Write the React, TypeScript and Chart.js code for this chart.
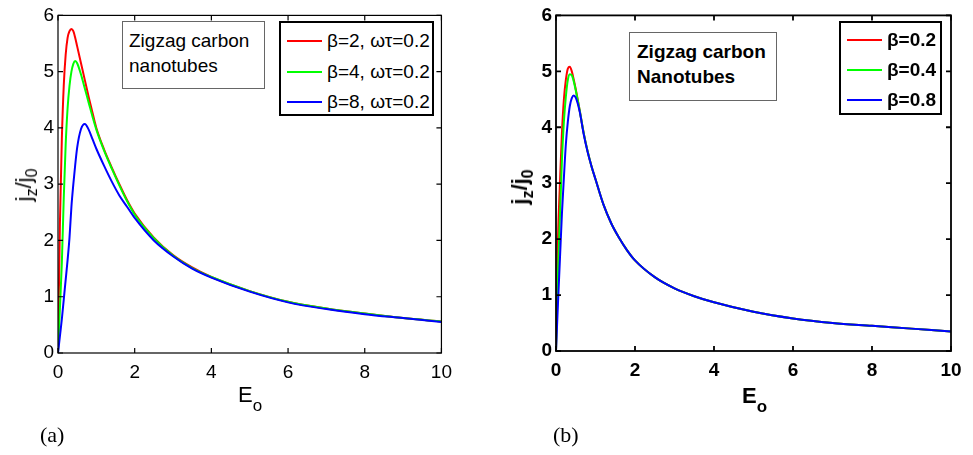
import React, { useEffect, useRef } from "react";
import { Chart, registerables } from "chart.js";
Chart.register(...registerables);

// ---------- data ----------
const E_LEFT = [0, 0.05, 0.1, 0.15, 0.2, 0.25, 0.3, 0.35, 0.4, 0.45, 0.5, 0.6, 0.7, 0.8, 0.9, 1.0, 1.2, 1.4, 1.6, 1.8, 2.0, 2.5, 3, 3.5, 4, 5, 6, 7, 8, 9, 10];
const LEFT_BETA2 = [0, 2.3, 3.8, 4.75, 5.3, 5.6, 5.72, 5.76, 5.72, 5.6, 5.45, 5.15, 4.85, 4.55, 4.27, 4.0, 3.62, 3.3, 3.0, 2.72, 2.48, 2.05, 1.74, 1.52, 1.35, 1.1, 0.91, 0.79, 0.7, 0.62, 0.56];
const LEFT_BETA4 = [0, 0.8, 1.6, 2.75, 3.7, 4.35, 4.75, 5.0, 5.14, 5.19, 5.15, 4.95, 4.7, 4.45, 4.2, 3.97, 3.6, 3.28, 2.98, 2.7, 2.46, 2.04, 1.73, 1.51, 1.35, 1.1, 0.91, 0.79, 0.7, 0.62, 0.56];
const LEFT_BETA8 = [0, 0.3, 0.6, 0.95, 1.3, 1.65, 2.05, 2.6, 3.0, 3.35, 3.65, 3.98, 4.07, 3.97, 3.8, 3.63, 3.33, 3.05, 2.8, 2.6, 2.4, 2.0, 1.72, 1.5, 1.34, 1.09, 0.9, 0.78, 0.69, 0.62, 0.55];

const E_RIGHT = [0, 0.05, 0.1, 0.15, 0.2, 0.25, 0.3, 0.35, 0.4, 0.45, 0.5, 0.6, 0.7, 0.8, 0.9, 1.0, 1.2, 1.4, 1.6, 1.8, 2.0, 2.5, 3, 3.5, 4, 5, 6, 7, 8, 9, 10];
const RIGHT_BETA02 = [0, 2.0, 3.0, 3.9, 4.5, 4.85, 5.05, 5.08, 5.0, 4.85, 4.68, 4.3, 3.9, 3.57, 3.3, 3.07, 2.62, 2.28, 2.02, 1.8, 1.62, 1.32, 1.12, 0.98, 0.87, 0.7, 0.58, 0.5, 0.45, 0.4, 0.35];
const RIGHT_BETA04 = [0, 1.4, 2.4, 3.4, 4.1, 4.55, 4.85, 4.95, 4.93, 4.82, 4.66, 4.3, 3.9, 3.57, 3.3, 3.07, 2.62, 2.28, 2.02, 1.8, 1.62, 1.32, 1.12, 0.98, 0.87, 0.7, 0.58, 0.5, 0.45, 0.4, 0.35];
const RIGHT_BETA08 = [0, 0.85, 1.65, 2.45, 3.1, 3.7, 4.1, 4.38, 4.52, 4.57, 4.53, 4.28, 3.88, 3.56, 3.3, 3.07, 2.62, 2.28, 2.02, 1.8, 1.62, 1.32, 1.12, 0.98, 0.87, 0.7, 0.58, 0.5, 0.45, 0.4, 0.35];

const LEFT_LABELS = ["β=2, ωτ=0.2", "β=4, ωτ=0.2", "β=8, ωτ=0.2"];
const RIGHT_LABELS = ["β=0.2", "β=0.4", "β=0.8"];
const SERIES_COLORS = ["#ff0000", "#00ff00", "#0000ff"];
const X_TICKS = [0, 2, 4, 6, 8, 10];
const Y_TICKS = [0, 1, 2, 3, 4, 5, 6];
const LEFT_NOTE = ["Zigzag carbon", "nanotubes"];
const RIGHT_NOTE = ["Zigzag carbon", "Nanotubes"];

const SANS = "'Liberation Sans', Arial, sans-serif";
const SERIF = "'Liberation Serif', 'Times New Roman', serif";

type PanelProps = {
  left: number;
  width: number;
  height: number;
  padTop: number;
  padRight: number;
  yAxisWidth: number;
  xAxisHeight: number;
  bold: boolean;
  frameWidth: number;
  xs: number[];
  series: number[][];
  labels: string[];
};

const framePlugin = {
  id: "frameTicks",
  afterDatasetsDraw(chart: any, _args: any, opts: any) {
    const { ctx, chartArea: a, scales } = chart;
    const L = 5;
    ctx.save();
    ctx.strokeStyle = "#000";
    ctx.lineWidth = opts.lineWidth || 1;
    ctx.beginPath();
    scales.x.ticks.forEach((_t: any, i: number) => {
      const px = scales.x.getPixelForTick(i);
      ctx.moveTo(px, a.bottom);
      ctx.lineTo(px, a.bottom - L);
      ctx.moveTo(px, a.top);
      ctx.lineTo(px, a.top + L);
    });
    scales.y.ticks.forEach((_t: any, i: number) => {
      const py = scales.y.getPixelForTick(i);
      ctx.moveTo(a.left, py);
      ctx.lineTo(a.left + L, py);
      ctx.moveTo(a.right, py);
      ctx.lineTo(a.right - L, py);
    });
    ctx.stroke();
    ctx.strokeRect(a.left, a.top, a.right - a.left, a.bottom - a.top);
    ctx.restore();
  },
};

function Panel(p: PanelProps) {
  const ref = useRef<HTMLCanvasElement | null>(null);
  useEffect(() => {
    if (!ref.current) return;
    const font = { family: SANS, size: 19, weight: p.bold ? "bold" : "normal" } as any;
    const chart = new Chart(ref.current, {
      type: "line",
      data: {
        datasets: p.series.map((ys, k) => ({
          label: p.labels[k],
          data: p.xs.map((x, i) => ({ x, y: ys[i] })),
          borderColor: SERIES_COLORS[k],
          backgroundColor: SERIES_COLORS[k],
          borderWidth: 2,
          pointRadius: 0,
          fill: false,
          cubicInterpolationMode: "monotone",
          order: p.series.length - k,
        })),
      },
      options: {
        animation: false,
        responsive: false,
        events: [],
        layout: { padding: { top: p.padTop, right: p.padRight, left: 0, bottom: 0 } },
        plugins: {
          legend: { display: false },
          tooltip: { enabled: false },
          frameTicks: { lineWidth: p.frameWidth },
        } as any,
        scales: {
          x: {
            type: "linear",
            min: 0,
            max: 10,
            grid: { display: false, drawTicks: false },
            border: { display: false },
            ticks: { color: "#000", font, padding: 8, maxRotation: 0, autoSkip: false },
            afterBuildTicks: (s: any) => {
              s.ticks = X_TICKS.map((v) => ({ value: v }));
            },
            afterFit: (s: any) => {
              s.height = p.xAxisHeight;
            },
          },
          y: {
            type: "linear",
            min: 0,
            max: 6,
            grid: { display: false, drawTicks: false },
            border: { display: false },
            ticks: { color: "#000", font, padding: 4, autoSkip: false },
            afterBuildTicks: (s: any) => {
              s.ticks = Y_TICKS.map((v) => ({ value: v }));
            },
            afterFit: (s: any) => {
              s.width = p.yAxisWidth;
            },
          },
        },
      },
      plugins: [framePlugin],
    });
    return () => chart.destroy();
  }, []);
  return (
    <canvas
      ref={ref}
      width={p.width}
      height={p.height}
      style={{ position: "absolute", left: p.left, top: 0, width: p.width, height: p.height }}
    />
  );
}

function Legend(props: {
  left: number; top: number; width: number; height: number; labels: string[];
  bold: boolean; rowTop: number; rowGap: number; lineLeft: number; lineLen: number; textLeft: number;
}) {
  return (
    <div
      style={{
        position: "absolute", left: props.left, top: props.top, width: props.width, height: props.height,
        boxSizing: "border-box", border: "2px solid #000", background: "#fff",
        fontFamily: SANS, fontSize: 19, fontWeight: props.bold ? "bold" : "normal", color: "#000",
      }}
    >
      {props.labels.map((lab, k) => (
        <div key={k} style={{ position: "absolute", left: 0, top: props.rowTop + k * props.rowGap - 12, height: 24, width: "100%" }}>
          <div style={{ position: "absolute", left: props.lineLeft, top: 11, width: props.lineLen, height: 2, background: SERIES_COLORS[k] }} />
          <div style={{ position: "absolute", left: props.textLeft, top: 0, lineHeight: "24px", whiteSpace: "nowrap" }}>{lab}</div>
        </div>
      ))}
    </div>
  );
}

function Note(props: { left: number; top: number; width: number; height: number; lines: string[]; bold: boolean; padTop: number; padLeft: number }) {
  return (
    <div
      style={{
        position: "absolute", left: props.left, top: props.top, width: props.width, height: props.height,
        boxSizing: "border-box", border: "1px solid #666", background: "#fff",
        fontFamily: SANS, fontSize: 19, lineHeight: "25px", fontWeight: props.bold ? "bold" : "normal",
        paddingTop: props.padTop, paddingLeft: props.padLeft, whiteSpace: "nowrap", color: "#000",
      }}
    >
      {props.lines.map((l, i) => (
        <div key={i}>{l}</div>
      ))}
    </div>
  );
}

function XTitle(props: { left: number; top: number; bold: boolean }) {
  return (
    <div style={{ position: "absolute", left: props.left, top: props.top, fontFamily: SANS, fontSize: 22, lineHeight: "22px", fontWeight: props.bold ? "bold" : "normal", whiteSpace: "nowrap" }}>
      E<span style={{ fontSize: 17, position: "relative", top: 9 }}>o</span>
    </div>
  );
}

function YTitle(props: { cx: number; cy: number; bold: boolean }) {
  return (
    <div
      style={{
        position: "absolute", left: props.cx, top: props.cy, transform: "translate(-50%, -50%) rotate(-90deg)",
        fontFamily: SANS, fontSize: 22, lineHeight: "26px", fontWeight: props.bold ? "bold" : "normal", whiteSpace: "nowrap",
      }}
    >
      j<span style={{ fontSize: 16, position: "relative", top: 6 }}>z</span>/j<span style={{ fontSize: 16, position: "relative", top: 6 }}>0</span>
    </div>
  );
}

export default function App() {
  return (
    <div style={{ position: "absolute", left: 0, top: 0, width: 973, height: 455, background: "#fff", overflow: "hidden" }}>
      <Panel left={0} width={460} height={455} padTop={14} padRight={18} yAxisWidth={58} xAxisHeight={102}
        bold={false} frameWidth={1.2} xs={E_LEFT} series={[LEFT_BETA2, LEFT_BETA4, LEFT_BETA8]} labels={LEFT_LABELS} />
      <Panel left={490} width={483} height={455} padTop={14} padRight={22} yAxisWidth={66} xAxisHeight={104}
        bold={true} frameWidth={1.8} xs={E_RIGHT} series={[RIGHT_BETA02, RIGHT_BETA04, RIGHT_BETA08]} labels={RIGHT_LABELS} />

      <Note left={122} top={21} width={143} height={68} lines={LEFT_NOTE} bold={false} padTop={6} padLeft={6} />
      <Legend left={279} top={21} width={155} height={95} labels={LEFT_LABELS} bold={false}
        rowTop={18} rowGap={30.5} lineLeft={6} lineLen={35} textLeft={46} />
      <XTitle left={238} top={384} bold={false} />
      <YTitle cx={25} cy={185} bold={false} />
      <div style={{ position: "absolute", left: 40, top: 422, fontFamily: SERIF, fontSize: 22, lineHeight: "26px" }}>(a)</div>

      <Note left={629} top={32} width={148} height={69} lines={RIGHT_NOTE} bold={true} padTop={6} padLeft={7} />
      <Legend left={839} top={21} width={103} height={94} labels={RIGHT_LABELS} bold={true}
        rowTop={17} rowGap={30} lineLeft={6} lineLen={35} textLeft={46} />
      <XTitle left={742} top={385} bold={true} />
      <YTitle cx={521} cy={187} bold={true} />
      <div style={{ position: "absolute", left: 553, top: 422, fontFamily: SERIF, fontSize: 22, lineHeight: "26px" }}>(b)</div>
    </div>
  );
}
